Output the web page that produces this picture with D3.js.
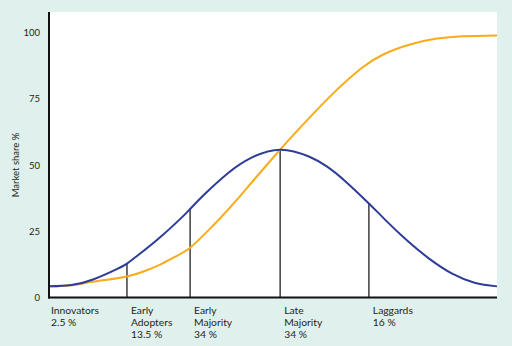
<!DOCTYPE html>
<html><head><meta charset="utf-8">
<script src="https://cdn.jsdelivr.net/npm/d3@7"></script>
<style>
html,body{margin:0;padding:0;background:#e0f1ed;}
svg{display:block;}
text{font-family:Lato, "Noto Sans", sans-serif;fill:#231f20;}
</style></head>
<body>
<svg id="chart" width="512" height="346"></svg>
<script>
// Data
const blueCurve = [[0,4.2],[5,4.7],[10,6.9],[15,10.6],[17.4,12.8],[20,16.1],[25,23.0],[30,30.8],[31.5,33.4],[35,39.4],[40,47.0],[45,52.6],[51.6,55.8],[58,53.2],[62,49.5],[66,44.1],[71.4,35.5],[75,29.4],[80,21.4],[85,14.5],[90,9.0],[95,5.6],[100,4.2]];
const orangeCurve = [[0,4.2],[5,4.6],[9.2,5.8],[13,6.7],[17.4,7.9],[21.4,10],[24.8,12.4],[28.1,15.3],[31.5,18.8],[35,24.4],[38.2,29.9],[42,37],[46,44.9],[51.6,55.8],[56,64],[62.7,75.8],[67,82.6],[70.1,87.0],[74.6,91.7],[80.6,95.5],[86.6,97.7],[92.4,98.6],[100,98.9]];
const dividers = [17.4, 31.5, 51.6, 71.4];
const categoryLabels = [["Innovators","2.5 %"],["Early","Adopters","13.5 %"],["Early","Majority","34 %"],["Late","Majority","34 %"],["Laggards","16 %"]];
const categoryStarts = [0, 17.4, 31.5, 51.6, 71.4];
const yTicks = [0,25,50,75,100];
const yTitle = "Market share %";

const svg = d3.select("#chart");
const x = d3.scaleLinear().domain([0,100]).range([49,497]);
const y = d3.scaleLinear().domain([0,100]).range([297.5,32.5]);

// plot area
svg.append("rect").attr("x",49).attr("y",12).attr("width",448).attr("height",285.5).attr("fill","#ffffff");

const line = d3.line().x(d=>x(d[0])).y(d=>y(d[1])).curve(d3.curveNatural);

// dividers up to blue curve
const blueAt = v => { const p = blueCurve.find(d=>d[0]===v); return p ? p[1] : 0; };
svg.selectAll("line.div").data(dividers).enter().append("line")
  .attr("x1",d=>x(d)).attr("x2",d=>x(d))
  .attr("y1",y(0)).attr("y2",d=>y(blueAt(d)))
  .attr("stroke","#4a4a4a").attr("stroke-width",1.6);

svg.append("path").datum(orangeCurve).attr("d",line).attr("fill","none").attr("stroke","#fbaa19").attr("stroke-width",2);
svg.append("path").datum(blueCurve).attr("d",line).attr("fill","none").attr("stroke","#2e3c99").attr("stroke-width",2);

// axes lines
svg.append("line").attr("x1",49).attr("x2",49).attr("y1",12).attr("y2",298.5).attr("stroke","#111").attr("stroke-width",2);
svg.append("line").attr("x1",48).attr("x2",497).attr("y1",297.5).attr("y2",297.5).attr("stroke","#111").attr("stroke-width",2);

// y axis tick labels
const yAxis = d3.axisLeft(y).tickValues(yTicks).tickSize(0).tickPadding(9);
const ga = svg.append("g").attr("transform","translate(49,0)").call(yAxis);
ga.select(".domain").remove();
ga.selectAll("text").attr("font-size","9.5px").attr("font-family","Lato, 'Noto Sans', sans-serif").attr("fill","#231f20");

svg.append("text").attr("transform","translate(19,165) rotate(-90)").attr("text-anchor","middle")
  .attr("font-size","9.5px").text(yTitle);

// category labels
categoryLabels.forEach((lines,i)=>{
  const x0 = x(categoryStarts[i]) + (i===0?2:4);
  const t = svg.append("text").attr("x", x0).attr("y",314).attr("font-size","10.3px");
  lines.forEach((s,j)=>{
    t.append("tspan").attr("x", x0).attr("y",314+j*12).text(s);
  });
});
</script>
</body></html>
